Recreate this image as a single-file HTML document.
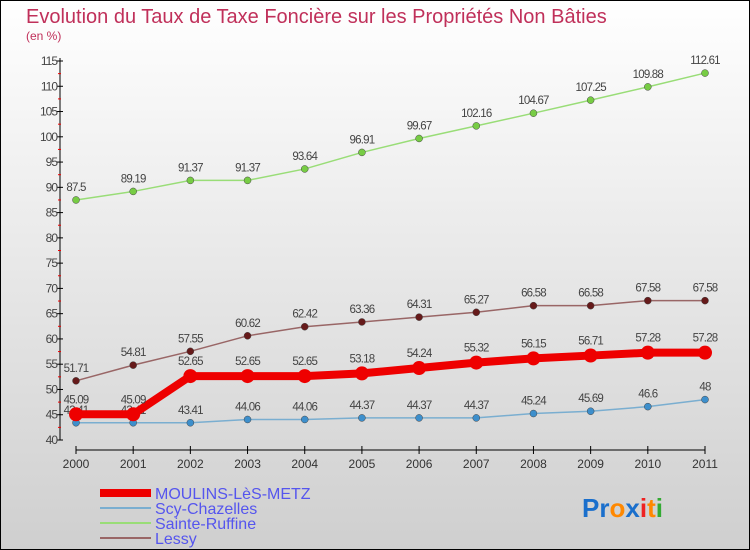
<!DOCTYPE html>
<html><head><meta charset="utf-8"><style>
body{margin:0}
svg{display:block;font-family:"Liberation Sans",sans-serif}
</style></head><body>
<svg width="750" height="550" viewBox="0 0 750 550">
<defs><linearGradient id="bg" x1="0" y1="0" x2="0" y2="1"><stop offset="0" stop-color="#ffffff"/><stop offset="1" stop-color="#cfcfcf"/></linearGradient></defs>
<rect x="0.5" y="0.5" width="749" height="549" fill="url(#bg)" stroke="#000"/>
<text x="26" y="23" font-size="20" fill="#c0305a">Evolution du Taux de Taxe Foncière sur les Propriétés Non Bâties</text>
<text x="26" y="40" font-size="12" fill="#c0305a">(en %)</text>
<g id="axes"></g>
<g id="series"></g>
<g>
<line x1="100" y1="493" x2="151" y2="493" stroke="#ee0000" stroke-width="8"/>
<text x="155" y="499" font-size="16" fill="#5555ee">MOULINS-LèS-METZ</text>
<line x1="100" y1="508" x2="151" y2="508" stroke="#7aaed0" stroke-width="2"/>
<text x="155" y="514" font-size="16" fill="#5555ee">Scy-Chazelles</text>
<line x1="100" y1="523" x2="151" y2="523" stroke="#99dd77" stroke-width="2"/>
<text x="155" y="529" font-size="16" fill="#5555ee">Sainte-Ruffine</text>
<line x1="100" y1="538" x2="151" y2="538" stroke="#996666" stroke-width="2"/>
<text x="155" y="544" font-size="16" fill="#5555ee">Lessy</text>
</g>
<text x="582" y="517" font-size="26" font-weight="bold"><tspan fill="#1a6fcc">Pr</tspan><tspan fill="#ff8800">o</tspan><tspan fill="#1a6fcc">x</tspan><tspan fill="#ee2222">i</tspan><tspan fill="#ff8800">t</tspan><tspan fill="#33aa33">i</tspan></text>
</svg>
<script>
const years=[2000,2001,2002,2003,2004,2005,2006,2007,2008,2009,2010,2011];
const moulins=[45.09,45.09,52.65,52.65,52.65,53.18,54.24,55.32,56.15,56.71,57.28,57.28];
const scy=[43.41,43.41,43.41,44.06,44.06,44.37,44.37,44.37,45.24,45.69,46.6,48];
const ruffine=[87.5,89.19,91.37,91.37,93.64,96.91,99.67,102.16,104.67,107.25,109.88,112.61];
const lessy=[51.71,54.81,57.55,60.62,62.42,63.36,64.31,65.27,66.58,66.58,67.58,67.58];
const yTicks=[40,45,50,55,60,65,70,75,80,85,90,95,100,105,110,115];
const NS="http://www.w3.org/2000/svg";
const X=i=>76+i*(705-76)/(years.length-1);
const Y=v=>440-(v-40)*(440-61)/75;
function mk(tag,at,parent){const e=document.createElementNS(NS,tag);for(const k in at)e.setAttribute(k,at[k]);parent.appendChild(e);return e;}
const axes=document.getElementById('axes'),ser=document.getElementById('series');
let l=mk('line',{x1:60,y1:58,x2:60,y2:440,stroke:'#000','stroke-width':1},axes);


yTicks.forEach(v=>{
 let t=mk('line',{x1:57,y1:Y(v),x2:63,y2:Y(v),stroke:'#000'},axes);
 
 
 if(v<115){let m=mk('line',{x1:58,y1:Y(v+2.5),x2:61,y2:Y(v+2.5),stroke:'#ee0000'},axes);
 
 }
 let tx=mk('text',{x:57,y:Y(v)+4,'font-size':12,fill:'#444','text-anchor':'end','letter-spacing':'-1'},axes);tx.textContent=v;
 
 
});
let xa=mk('line',{x1:76,y1:450,x2:705,y2:450,stroke:'#000'},axes);


years.forEach((y,i)=>{
 let t=mk('line',{x1:X(i),y1:446,x2:X(i),y2:454,stroke:'#000'},axes);
 
 
 let tx=mk('text',{x:X(i),y:468,'font-size':12,fill:'#333','text-anchor':'middle'},axes);tx.textContent=y;
 
 
});
function draw(vals,color,w,r,dot,name,labelOff){
 const p=mk('polyline',{points:vals.map((v,i)=>X(i)+','+Y(v)).join(' '),fill:'none',stroke:color,'stroke-width':w},ser);
 
 
 vals.forEach((v,i)=>{
  const c=mk('circle',{cx:X(i),cy:Y(v),r:r,fill:dot,stroke:'#444','stroke-width':r>5?0:0.5},ser);
  
  
  const t=mk('text',{x:X(i),y:Y(v)-labelOff,'font-size':11.5,fill:'#444','text-anchor':'middle','letter-spacing':'-0.8'},ser);
  t.textContent=String(v);
  
  
 });
}
draw(ruffine,'#99dd77',1.5,3.5,'#77cc44','sainte-ruffine',9);
draw(lessy,'#996666',1.5,3.5,'#661a1a','lessy',9);
draw(scy,'#7aaed0',1.5,3.5,'#3d8fcc','scy',9);
draw(moulins,'#ee0000',8,7,'#ee0000','moulins',11);
</script>
</body></html>
